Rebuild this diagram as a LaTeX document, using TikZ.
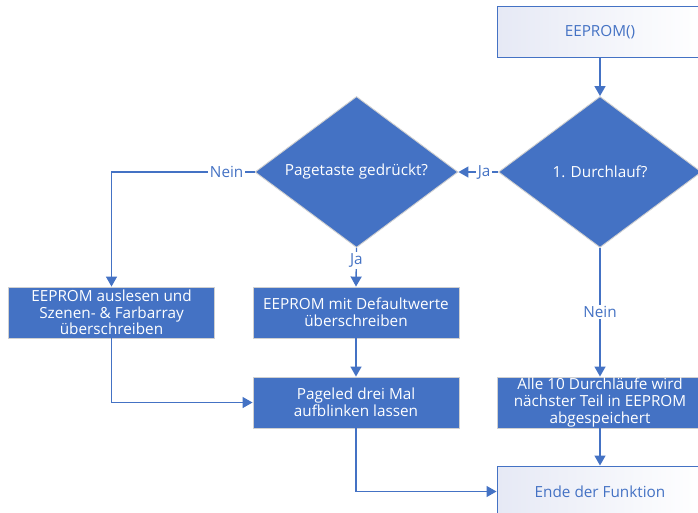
\documentclass[tikz,border=0pt]{standalone}
\usepackage{fontspec}
\setmainfont{Open Sans}
\usetikzlibrary{shapes.geometric,arrows.meta}
\definecolor{accent}{HTML}{4472C4}
\definecolor{lav}{HTML}{E6E9F5}
\definecolor{rim}{HTML}{D0D0D0}
\tikzset{
  every node/.style={font=\fontsize{15.3}{16.6}\selectfont},
  bluebox/.style={rectangle, fill=accent, draw=rim, line width=0.9pt, text=white,
    minimum width=206pt, minimum height=51pt, inner sep=0pt, align=center},
  termbox/.style={rectangle, left color=lav, right color=white, draw=accent, line width=1pt,
    text=accent, minimum width=206pt, minimum height=51pt, inner sep=0pt, align=center},
  decision/.style={diamond, aspect=1.35, fill=accent, draw=rim, line width=0.9pt, text=white,
    minimum width=203pt, minimum height=151pt, inner sep=0pt, align=center},
  conn/.style={draw=accent, line width=1.4pt, -{Triangle[width=11pt,length=10pt]}},
  lbl/.style={fill=white, text=accent, inner sep=1.5pt}
}
\begin{document}
\begin{tikzpicture}[x=1pt,y=-1pt]
\useasboundingbox (0,0) rectangle (698,512);
\clip (0,0) rectangle (698,512);
\node[termbox] (start) at (600,32) {EEPROM()};
\node[decision] (d1) at (600,172) {1. Durchlauf?};
\node[decision] (d2) at (356.5,172) {Pagetaste gedrückt?};
\node[bluebox] (b1) at (111.5,312.5) {EEPROM auslesen und\\Szenen- \& Farbarray\\überschreiben};
\node[bluebox] (b2) at (356,312.5) {EEPROM mit Defaultwerte\\überschreiben};
\node[bluebox] (b3) at (356,402.5) {Pageled drei Mal\\aufblinken lassen};
\node[bluebox] (b4) at (600,402.5) {Alle 10 Durchläufe wird\\nächster Teil in EEPROM\\abgespeichert};
\node[termbox] (end) at (600,491.5) {Ende der Funktion};
\coordinate (nk) at (111.5,172);
\draw[conn] (start) -- (d1);
\draw[conn] (d1.west) -- node[lbl, pos=0.35] {Ja} (d2.east);
\draw[conn] (d2.west) -- node[lbl, pos=0.195] {Nein} (nk) -- (b1.north);
\draw[conn] (d2.south) -- node[lbl, pos=0.33] {Ja} (b2.north);
\draw[conn] (d1.south) -- node[lbl, pos=0.5] {Nein} (b4.north);
\draw[conn] (b2) -- (b3);
\draw[conn] (b1.south) |- (b3.west);
\draw[conn] (b3.south) |- (end.west);
\draw[conn] (b4) -- (end);
\end{tikzpicture}
\end{document}
